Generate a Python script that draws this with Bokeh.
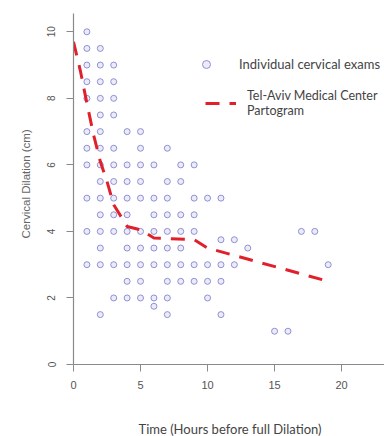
from bokeh.plotting import figure
from bokeh.models import Range1d, Legend, LegendItem, FixedTicker, Title
from bokeh.embed import file_html
from bokeh.resources import INLINE

# Individual cervical exams (hours before full dilation, dilation cm)
exam_hours = [1,
              1, 2,
              1, 2, 3,
              1, 2, 3,
              1, 2, 3,
              2, 3,
              1, 2, 4, 5,
              1, 2, 3, 5, 7,
              1, 2, 3, 4, 5, 6, 8, 9,
              2, 3, 4, 5, 7, 8,
              1, 2, 3, 4, 5, 6, 7, 9, 10, 11,
              2, 3, 4, 6, 7, 8, 9,
              1, 2, 3, 4, 5, 6, 7, 8, 9, 17, 18,
              11, 12,
              2, 4, 5, 6, 7, 8, 13,
              1, 2, 3, 4, 5, 6, 7, 8, 9, 10, 11, 12, 19,
              4, 5, 7, 8, 9, 10, 11,
              3, 4, 5, 6, 7, 10,
              6,
              2, 7, 11,
              15, 16]
exam_cm = [10,
           9.5, 9.5,
           9, 9, 9,
           8.5, 8.5, 8.5,
           8, 8, 8,
           7.5, 7.5,
           7, 7, 7, 7,
           6.5, 6.5, 6.5, 6.5, 6.5,
           6, 6, 6, 6, 6, 6, 6, 6,
           5.5, 5.5, 5.5, 5.5, 5.5, 5.5,
           5, 5, 5, 5, 5, 5, 5, 5, 5, 5,
           4.5, 4.5, 4.5, 4.5, 4.5, 4.5, 4.5,
           4, 4, 4, 4, 4, 4, 4, 4, 4, 4, 4,
           3.75, 3.75,
           3.5, 3.5, 3.5, 3.5, 3.5, 3.5, 3.5,
           3, 3, 3, 3, 3, 3, 3, 3, 3, 3, 3, 3, 3,
           2.5, 2.5, 2.5, 2.5, 2.5, 2.5, 2.5,
           2, 2, 2, 2, 2, 2,
           1.75,
           1.5, 1.5, 1.5,
           1, 1]

# Tel-Aviv Medical Center partogram
part_hours = [0, 0.5, 1, 1.5, 2, 2.5, 3, 4, 5, 6, 9, 10, 19]
part_cm = [9.7, 8.85, 7.85, 6.9, 6.1, 5.5, 4.8, 4.15, 4.05, 3.8, 3.75, 3.5, 2.5]

x_ticks = [0, 5, 10, 15, 20]
y_ticks = [0, 2, 4, 6, 8, 10]

AXIS = "#8a8a8a"
TICKTXT = "#555555"

p = figure(width=384, height=436, output_backend="svg", toolbar_location=None,
           x_range=Range1d(0, 23.2), y_range=Range1d(0, 10.55),
           min_border_left=73, min_border_right=0, min_border_top=13,
           min_border_bottom=70)
p.outline_line_color = None
p.grid.visible = False
p.background_fill_color = "white"
p.border_fill_color = "white"

pts = p.scatter(exam_hours, exam_cm, size=6, marker="circle",
                fill_color="#c8c8ee", fill_alpha=0.35,
                line_color="#7f7fcf", line_width=1, line_alpha=0.85)
ln = p.line(part_hours, part_cm, line_color="#e0202a", line_width=3,
            line_dash="14 10")

for ax in (p.xaxis[0], p.yaxis[0]):
    ax.axis_line_color = AXIS
    ax.axis_line_width = 1.2
    ax.major_tick_line_color = AXIS
    ax.major_tick_out = 7
    ax.major_tick_in = 0
    ax.minor_tick_line_color = None
    ax.major_label_text_color = TICKTXT
    ax.major_label_text_font = "Liberation Sans"

p.xaxis.ticker = FixedTicker(ticks=x_ticks)
p.yaxis.ticker = FixedTicker(ticks=y_ticks)
p.xaxis.major_label_text_font_size = "11px"
p.xaxis.major_label_standoff = 9
# blank axis label used only as vertical spacing before the title below
p.xaxis.axis_label = " "
p.xaxis.axis_label_text_font_size = "13px"
p.xaxis.axis_label_standoff = 9
p.yaxis.major_label_text_font_size = "10px"
p.yaxis.major_label_orientation = "vertical"
p.yaxis.major_label_standoff = 11

xt = Title(text="Time (Hours before full Dilation)", align="left", offset=65,
           text_font="Lato", text_font_size="13px", text_font_style="normal",
           text_color="#444444", standoff=0)
p.add_layout(xt, "below")

yt = Title(text="Cervical Dilation (cm)", align="left", offset=126,
           text_font="Liberation Sans", text_font_size="11.5px",
           text_font_style="normal", text_color="#666666", standoff=26)
p.add_layout(yt, "left")

leg1 = Legend(items=[LegendItem(label="Individual cervical exams", renderers=[pts])],
              location=(123, 290), margin=0, padding=0,
              glyph_width=20, glyph_height=20, label_standoff=23,
              label_text_font="Lato", label_text_font_size="13px",
              label_text_color="#444444",
              border_line_color=None, background_fill_alpha=0)
leg2 = Legend(items=[LegendItem(label="Tel-Aviv Medical Center\nPartogram", renderers=[ln])],
              location=(132, 246), margin=0, padding=0,
              glyph_width=31, glyph_height=20, label_standoff=11,
              label_text_font="Lato", label_text_font_size="12.5px",
              label_text_color="#444444",
              border_line_color=None, background_fill_alpha=0)
p.add_layout(leg1)
p.add_layout(leg2)

open("out.html", "w").write(file_html(p, INLINE))
